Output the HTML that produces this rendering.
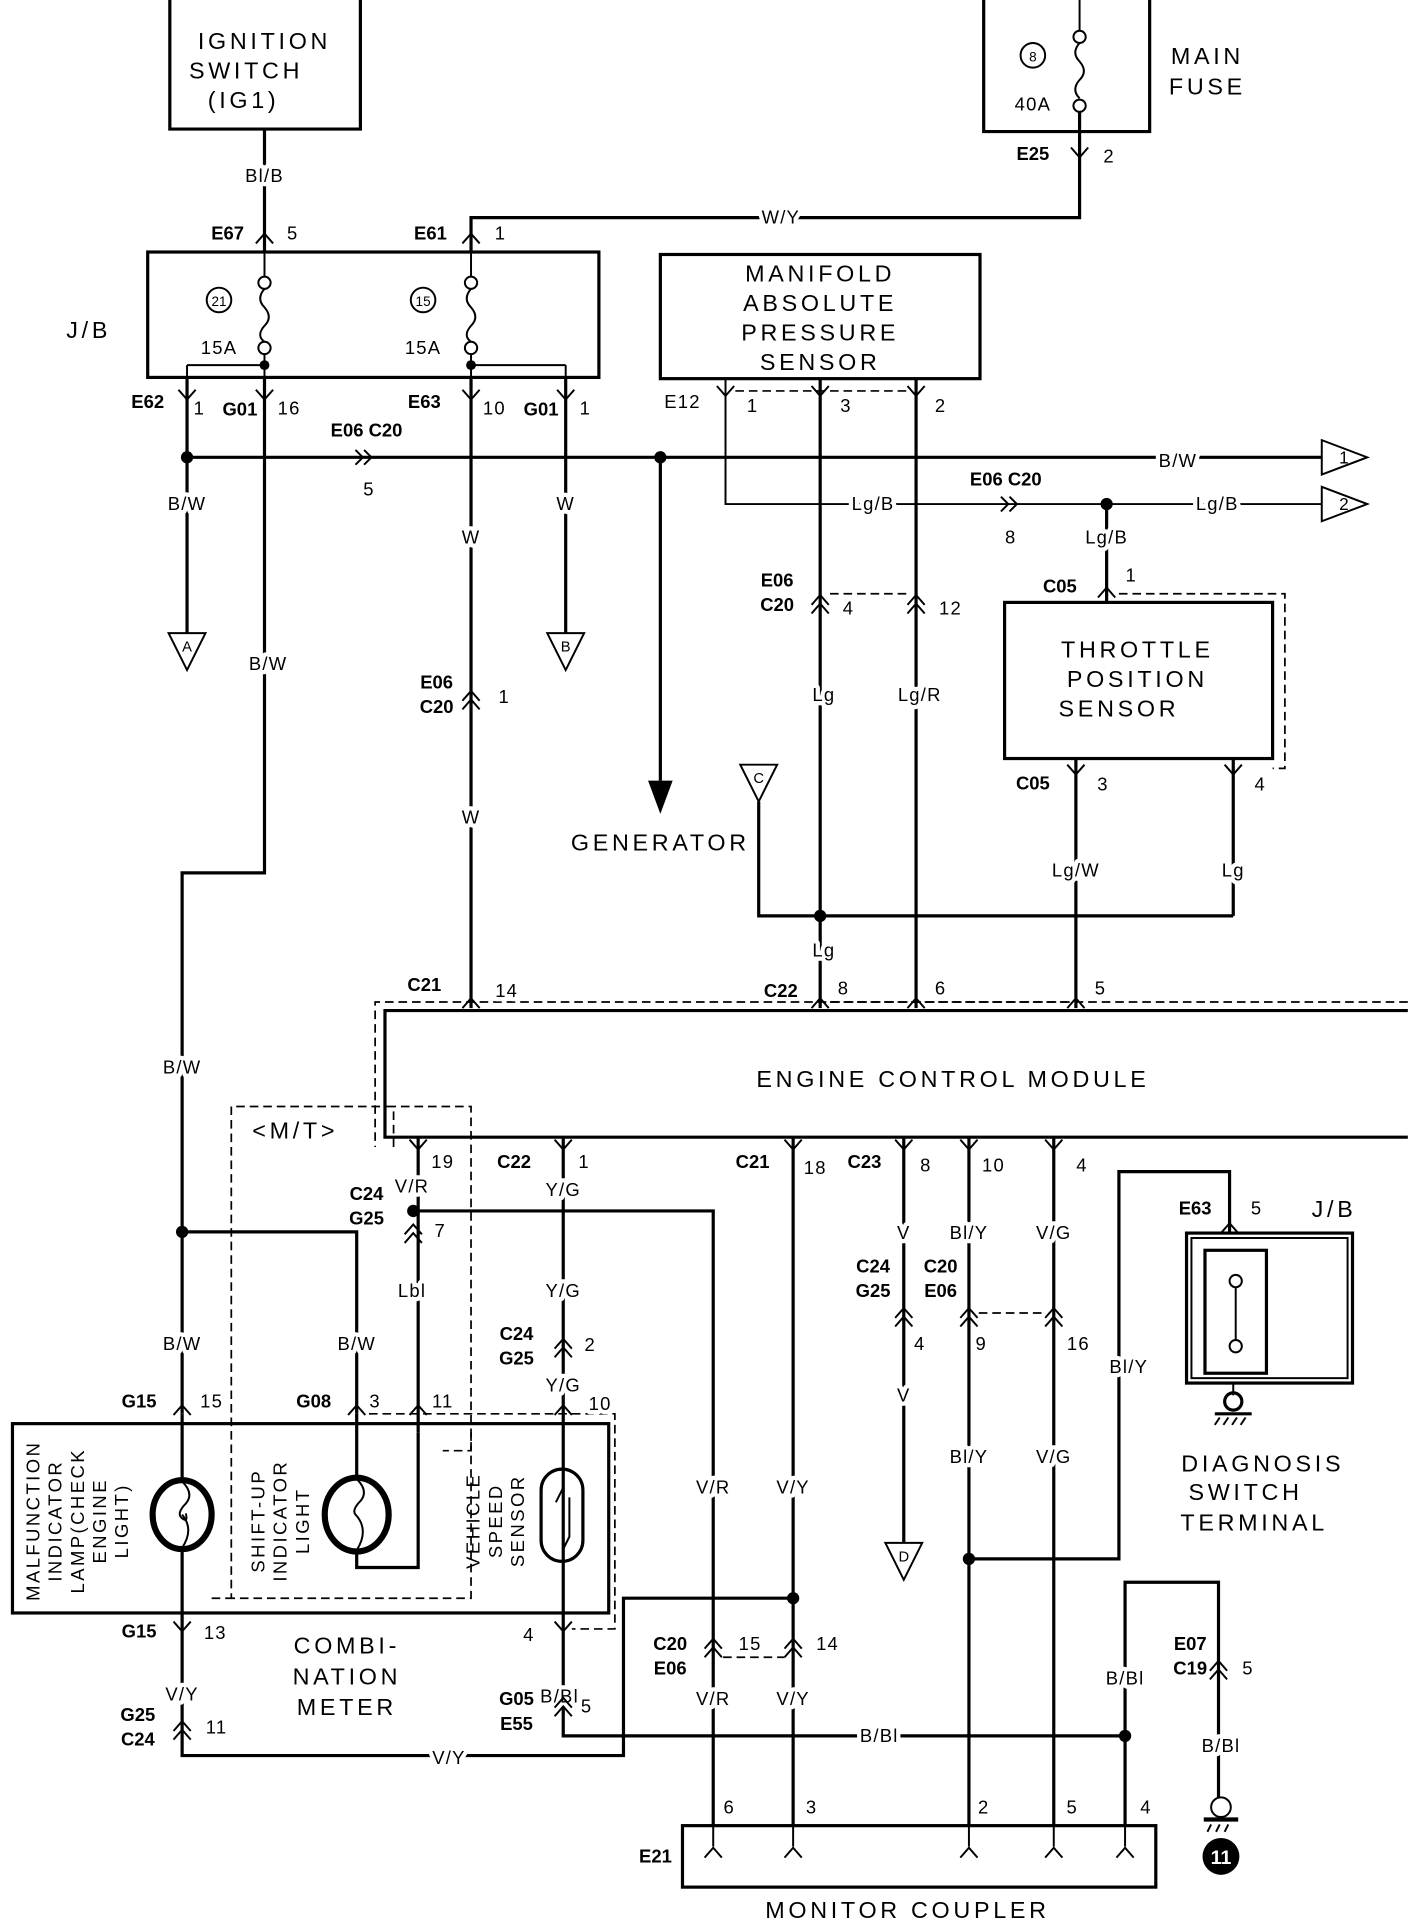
<!DOCTYPE html>
<html><head><meta charset="utf-8"><style>
html,body{margin:0;padding:0;background:#fff}
svg{display:block}
text{font-family:"Liberation Sans",sans-serif;fill:#000}
.t{font-size:19px;letter-spacing:3px}
.s{font-size:15px;letter-spacing:1px;stroke:#fff;stroke-width:7px;paint-order:stroke;stroke-linejoin:round}
.b{font-size:15px;font-weight:bold}
.w{stroke:#000;stroke-width:2.6;fill:none}
.th{stroke:#000;stroke-width:1.6;fill:none}
.d{stroke:#000;stroke-width:1.4;fill:none;stroke-dasharray:7 4}
</style></head><body>
<svg width="1408" height="1924" viewBox="0 0 1145 1565" xmlns="http://www.w3.org/2000/svg">
<defs>
<path id="v" d="M-7,-8 L0,0 L7,-8" stroke="#000" stroke-width="1.6" fill="none"/>
<path id="u" d="M-7,8 L0,0 L7,8" stroke="#000" stroke-width="1.6" fill="none"/>
<g id="dd"><path d="M-7,4 L0,-4 L7,4 M-7,11 L0,3 L7,11" stroke="#000" stroke-width="1.6" fill="none"/></g>
<g id="rr"><path d="M-6,-6 L0,0 L-6,6 M1,-6 L7,0 L1,6" stroke="#000" stroke-width="1.6" fill="none"/></g>
</defs>
<g text-anchor="middle">
<!-- Ignition switch -->
<path class="w" d="M138,0 V105 H293 V0"/>
<text class="t" x="215" y="40">IGNITION</text><text class="t" x="200" y="64">SWITCH</text><text class="t" x="198" y="88">(IG1)</text>
<!-- Main fuse -->
<path class="w" d="M800,0 V107 H935 V0"/>
<circle cx="840" cy="45" r="10" class="th"/><text x="840" y="50" style="font-size:11px">8</text>
<path class="th" d="M878,0 V25"/><circle cx="878" cy="30" r="5" class="th"/><circle cx="878" cy="86" r="5" class="th"/>
<path class="th" d="M878,35 q-7,8 0,15 q7,8 0,15 q-7,8 0,15"/>
<text class="s" x="840" y="90">40A</text>
<text class="t" x="982" y="52">MAIN</text><text class="t" x="982" y="77">FUSE</text>
<path class="w" d="M878,91 V177 H383 V205"/><text class="s" x="635" y="182">W/Y</text>
<text class="b" x="840" y="130">E25</text><use href="#v" x="878" y="128"/><text class="s" x="902" y="132">2</text>
<path class="w" d="M215,105 V205"/><text class="s" x="215" y="148">Bl/B</text>
<text class="b" x="185" y="195">E67</text><use href="#u" x="215" y="190"/><text class="s" x="238" y="195">5</text>
<text class="b" x="350" y="195">E61</text><use href="#u" x="383" y="190"/><text class="s" x="407" y="195">1</text>
<!-- J/B -->
<rect x="120" y="205" width="367" height="102" class="w"/>
<text class="t" x="72" y="275">J/B</text>
<circle cx="178" cy="244" r="10" class="th"/><text x="178" y="249" style="font-size:11px">21</text>
<circle cx="344" cy="244" r="10" class="th"/><text x="344" y="249" style="font-size:11px">15</text>
<g class="th"><path d="M215,205 V225 M383,205 V225"/><circle cx="215" cy="230" r="5"/><circle cx="215" cy="283" r="5"/><circle cx="383" cy="230" r="5"/><circle cx="383" cy="283" r="5"/>
<path d="M215,235 q-7,8 0,15 q7,8 0,15 q-7,8 0,13 M383,235 q-7,8 0,15 q7,8 0,15 q-7,8 0,13"/>
<path d="M215,288 V307 M152,297 H215 M383,288 V307 M383,297 H460"/></g>
<text class="s" x="178" y="288">15A</text><text class="s" x="344" y="288">15A</text>
<circle cx="215" cy="297" r="4"/><circle cx="383" cy="297" r="4"/>
<path class="th" d="M152,297 V320 M460,297 V320"/>
<!-- wires -->
<path class="w" d="M152,307 V515"/><path class="w" d="M152,372 H1075"/>
<circle cx="152" cy="372" r="5"/><circle cx="537" cy="372" r="5"/>
<text class="b" x="298" y="355">E06  C20</text><use href="#rr" x="295" y="372"/><text class="s" x="300" y="403">5</text>
<text class="s" x="958" y="380">B/W</text>
<path class="th" d="M1075,358 L1112,372 L1075,386 Z" fill="#fff"/><text x="1093" y="377" style="font-size:14px">1</text>
<text class="s" x="152" y="415">B/W</text>
<path class="th" d="M137,515 H167 L152,545 Z" fill="#fff"/><text x="152" y="530" style="font-size:12px">A</text>
<path class="w" d="M215,307 V710 H148 V1150"/><text class="s" x="218" y="545">B/W</text>
<text class="s" x="148" y="873">B/W</text>
<circle cx="148" cy="1002" r="5"/><path class="w" d="M148,1002 H290 V1150"/>
<text class="s" x="148" y="1098">B/W</text><text class="s" x="290" y="1098">B/W</text>
<path class="w" d="M383,307 V820"/><text class="s" x="383" y="442">W</text>
<text class="b" x="355" y="560">E06</text><text class="b" x="355" y="580">C20</text><use href="#dd" x="383" y="566"/><text class="s" x="410" y="572">1</text>
<text class="s" x="383" y="670">W</text>
<path class="w" d="M460,307 V515"/><text class="s" x="460" y="415">W</text>
<path class="th" d="M445,515 H475 L460,545 Z" fill="#fff"/><text x="460" y="530" style="font-size:12px">B</text>
<text class="b" x="120" y="332">E62</text><use href="#v" x="152" y="325"/><text class="s" x="162" y="337">1</text>
<text class="b" x="195" y="338">G01</text><use href="#v" x="215" y="325"/><text class="s" x="235" y="337">16</text>
<text class="b" x="345" y="332">E63</text><use href="#v" x="383" y="325"/><text class="s" x="402" y="337">10</text>
<text class="b" x="440" y="338">G01</text><use href="#v" x="460" y="325"/><text class="s" x="476" y="337">1</text>
<path class="w" d="M537,372 V635"/><path d="M527,635 H547 L537,662 Z"/>
<text class="t" x="537" y="692">GENERATOR</text>
<!-- MAP -->
<rect x="537" y="207" width="260" height="101" class="w"/>
<text class="t" x="667" y="229">MANIFOLD</text><text class="t" x="667" y="253">ABSOLUTE</text><text class="t" x="667" y="277">PRESSURE</text><text class="t" x="667" y="301">SENSOR</text>
<text class="s" x="555" y="332">E12</text><path class="d" d="M598,318 H737"/>
<path class="th" d="M590,308 V410 H1075"/>
<path class="w" d="M667,308 V820 M745,308 V820"/>
<use href="#v" x="590" y="322"/><text class="s" x="612" y="335">1</text>
<use href="#v" x="667" y="322"/><text class="s" x="688" y="335">3</text>
<use href="#v" x="745" y="322"/><text class="s" x="765" y="335">2</text>
<text class="s" x="710" y="415">Lg/B</text>
<text class="b" x="818" y="395">E06  C20</text><use href="#rr" x="820" y="410"/><text class="s" x="822" y="442">8</text>
<circle cx="900" cy="410" r="5"/><text class="s" x="990" y="415">Lg/B</text>
<path class="th" d="M1075,396 L1112,410 L1075,424 Z" fill="#fff"/><text x="1093" y="415" style="font-size:14px">2</text>
<path class="w" d="M900,410 V490"/><text class="s" x="900" y="442">Lg/B</text>
<text class="b" x="862" y="482">C05</text><use href="#u" x="900" y="478"/><text class="s" x="920" y="473">1</text>
<rect x="817" y="490" width="218" height="127" class="w"/><path class="d" d="M910,483 H1045 V625 H1035"/>
<text class="t" x="925" y="535">THROTTLE</text><text class="t" x="925" y="559">POSITION</text><text class="t" x="910" y="583">SENSOR</text>
<text class="b" x="632" y="477">E06</text><text class="b" x="632" y="497">C20</text>
<use href="#dd" x="667" y="488"/><use href="#dd" x="745" y="488"/><path class="d" d="M675,483 H738"/>
<text class="s" x="690" y="500">4</text><text class="s" x="773" y="500">12</text>
<text class="s" x="670" y="570">Lg</text><text class="s" x="748" y="570">Lg/R</text>
<path class="w" d="M875,617 V820 M1003,617 V745"/>
<text class="b" x="840" y="642">C05</text><use href="#v" x="875" y="630"/><text class="s" x="897" y="643">3</text>
<use href="#v" x="1003" y="630"/><text class="s" x="1025" y="643">4</text>
<text class="s" x="875" y="713">Lg/W</text><text class="s" x="1003" y="713">Lg</text>
<path class="th" d="M602,622 H632 L617,652 Z" fill="#fff"/><text x="617" y="637" style="font-size:12px">C</text>
<path class="w" d="M617,652 V745 H1003"/><circle cx="667" cy="745" r="5"/><text class="s" x="670" y="778">Lg</text>
<!-- ECM -->
<path class="w" d="M1145,822 H313 V925 H1145"/><path class="d" d="M1145,815 H305 V933"/>
<text class="t" x="775" y="884">ENGINE CONTROL MODULE</text>
<text class="b" x="345" y="806">C21</text><use href="#u" x="383" y="812"/><text class="s" x="412" y="811">14</text>
<text class="b" x="635" y="811">C22</text><use href="#u" x="667" y="812"/><text class="s" x="686" y="809">8</text>
<use href="#u" x="745" y="812"/><text class="s" x="765" y="809">6</text><path class="d" d="M675,815 H868"/>
<use href="#u" x="875" y="812"/><text class="s" x="895" y="809">5</text>
<!-- M/T dashed -->
<path class="d" d="M320,933 V900 H188 V1300 H383 V900 H320"/>
<text class="t" x="240" y="926">&lt;M/T&gt;</text>
<path class="w" d="M340,925 V1165"/>
<path class="w" d="M336,985 H580 V1485"/>
<path class="w" d="M458,925 V1157"/>
<use href="#v" x="340" y="935"/><text class="s" x="360" y="950">19</text>
<text class="s" x="335" y="970">V/R</text><circle cx="336" cy="985" r="5"/>
<text class="b" x="298" y="976">C24</text><text class="b" x="298" y="996">G25</text><use href="#dd" x="336" y="1000"/><text class="s" x="358" y="1006">7</text>
<text class="s" x="335" y="1055">Lbl</text>
<text class="b" x="418" y="950">C22</text><use href="#v" x="458" y="935"/><text class="s" x="475" y="950">1</text>
<text class="s" x="458" y="973">Y/G</text><text class="s" x="458" y="1055">Y/G</text>
<text class="b" x="420" y="1090">C24</text><text class="b" x="420" y="1110">G25</text><use href="#dd" x="458" y="1093"/><text class="s" x="480" y="1099">2</text>
<text class="s" x="458" y="1132">Y/G</text>
<!-- Combination meter -->
<rect x="10" y="1158" width="485" height="154" class="w"/>
<path class="d" d="M300,1150 H500 V1325 H465"/>
<path class="w" d="M148,1150 V1400 M290,1150 V1275 H340 V1165 M458,1157 V1412 H915"/>
<text class="b" x="113" y="1145">G15</text><use href="#u" x="148" y="1143"/><text class="s" x="172" y="1145">15</text>
<text class="b" x="255" y="1145">G08</text><use href="#u" x="290" y="1143"/><text class="s" x="305" y="1145">3</text>
<use href="#u" x="340" y="1143"/><text class="s" x="360" y="1145">11</text>
<use href="#u" x="458" y="1143"/><text class="s" x="488" y="1147">10</text>
<ellipse cx="148" cy="1232" rx="24" ry="28" style="stroke:#000;stroke-width:5;fill:#fff"/>
<ellipse cx="290" cy="1232" rx="26" ry="30" style="stroke:#000;stroke-width:5;fill:#fff"/>
<path class="th" d="M148,1205 q10,10 3,18 q-8,8 -3,12 q5,4 3,-4 M148,1232 q10,12 0,27"/>
<path class="th" d="M290,1203 q10,10 3,18 q-8,8 -3,12 M290,1233 q10,12 0,28"/>
<rect x="440" y="1195" width="34" height="75" rx="17" class="w" fill="#fff"/>
<path class="th" d="M458,1195 V1210 L452,1222 M463,1218 V1250 L458,1260 V1270"/>
<path class="d" d="M172,1300 H188 M383,1165 V1180 H360"/>
<g class="t" style="font-size:15px;letter-spacing:2px" text-anchor="middle">
<text transform="translate(32,1237) rotate(-90)">MALFUNCTION</text>
<text transform="translate(50,1237) rotate(-90)">INDICATOR</text>
<text transform="translate(68,1237) rotate(-90)">LAMP(CHECK</text>
<text transform="translate(86,1237) rotate(-90)">ENGINE</text>
<text transform="translate(104,1237) rotate(-90)">LIGHT)</text>
<text transform="translate(215,1237) rotate(-90)">SHIFT-UP</text>
<text transform="translate(233,1237) rotate(-90)">INDICATOR</text>
<text transform="translate(251,1237) rotate(-90)">LIGHT</text>
<text transform="translate(390,1237) rotate(-90)">VEHICLE</text>
<text transform="translate(408,1237) rotate(-90)">SPEED</text>
<text transform="translate(426,1237) rotate(-90)">SENSOR</text>
</g>
<text class="b" x="113" y="1332">G15</text><use href="#v" x="148" y="1327"/><text class="s" x="175" y="1333">13</text>
<text class="s" x="430" y="1335">4</text><use href="#v" x="458" y="1327"/>
<text class="t" x="282" y="1345">COMBI-</text><text class="t" x="282" y="1370">NATION</text><text class="t" x="282" y="1395">METER</text>
<path class="w" d="M148,1400 V1428 H507 V1300 H645"/>
<text class="s" x="148" y="1383">V/Y</text>
<text class="b" x="112" y="1400">G25</text><text class="b" x="112" y="1420">C24</text><use href="#dd" x="148" y="1404"/><text class="s" x="176" y="1410">11</text>
<text class="s" x="365" y="1435">V/Y</text>
<text class="s" x="455" y="1385">B/Bl</text>
<text class="b" x="420" y="1387">G05</text><text class="b" x="420" y="1407">E55</text><use href="#dd" x="458" y="1385"/><text class="s" x="477" y="1393">5</text>
<text class="s" x="715" y="1417">B/Bl</text>
<!-- lower right -->
<path class="w" d="M645,925 V1485"/>
<path class="w" d="M735,925 V1255 M788,925 V1485 M857,925 V1485"/>
<path class="w" d="M788,1268 H910 V953 H1000 V1003"/><circle cx="788" cy="1268" r="5"/>
<text class="b" x="612" y="950">C21</text><use href="#v" x="645" y="935"/><text class="s" x="663" y="955">18</text>
<circle cx="645" cy="1300" r="5"/>
<text class="s" x="580" y="1215">V/R</text><text class="s" x="645" y="1215">V/Y</text>
<text class="b" x="545" y="1342">C20</text><text class="b" x="545" y="1362">E06</text>
<use href="#dd" x="580" y="1337"/><use href="#dd" x="645" y="1337"/><path class="d" d="M588,1348 H638"/>
<text class="s" x="610" y="1342">15</text><text class="s" x="673" y="1342">14</text>
<text class="s" x="580" y="1387">V/R</text><text class="s" x="645" y="1387">V/Y</text>
<text class="b" x="703" y="950">C23</text>
<use href="#v" x="735" y="935"/><text class="s" x="753" y="953">8</text>
<use href="#v" x="788" y="935"/><text class="s" x="808" y="953">10</text>
<use href="#v" x="857" y="935"/><text class="s" x="880" y="953">4</text>
<text class="s" x="735" y="1008">V</text><text class="s" x="788" y="1008">Bl/Y</text><text class="s" x="857" y="1008">V/G</text>
<text class="b" x="710" y="1035">C24</text><text class="b" x="710" y="1055">G25</text>
<text class="b" x="765" y="1035">C20</text><text class="b" x="765" y="1055">E06</text>
<use href="#dd" x="735" y="1068"/><use href="#dd" x="788" y="1068"/><use href="#dd" x="857" y="1068"/>
<path class="d" d="M796,1068 H850"/>
<text class="s" x="748" y="1098">4</text><text class="s" x="798" y="1098">9</text><text class="s" x="877" y="1098">16</text>
<text class="s" x="735" y="1140">V</text><text class="s" x="788" y="1190">Bl/Y</text><text class="s" x="857" y="1190">V/G</text>
<path class="th" d="M720,1255 H750 L735,1285 Z" fill="#fff"/><text x="735" y="1270" style="font-size:12px">D</text>
<text class="s" x="918" y="1117">Bl/Y</text>
<text class="b" x="972" y="988">E63</text><use href="#u" x="1000" y="995"/><text class="s" x="1022" y="988">5</text>
<text class="t" x="1085" y="990">J/B</text>
<rect x="965" y="1003" width="135" height="122" class="w"/><rect x="969" y="1007" width="127" height="114" class="th"/>
<rect x="980" y="1017" width="50" height="100" class="w"/>
<circle cx="1005" cy="1042" r="5" class="th"/><circle cx="1005" cy="1095" r="5" class="th"/>
<path class="th" d="M1005,1047 V1090 M1003,1125 V1135"/>
<circle cx="1003" cy="1140" r="7" class="w"/><path class="w" d="M988,1150 H1018"/><path class="th" d="M992,1153 l-4,6 M999,1153 l-4,6 M1006,1153 l-4,6 M1013,1153 l-4,6"/>
<text class="t" x="1027" y="1197">DIAGNOSIS</text><text class="t" x="1013" y="1220">SWITCH</text><text class="t" x="1020" y="1245">TERMINAL</text>
<path class="w" d="M915,1485 V1287 H991 V1462"/><circle cx="915" cy="1412" r="5"/>
<text class="s" x="915" y="1370">B/Bl</text>
<text class="b" x="968" y="1342">E07</text><text class="b" x="968" y="1362">C19</text>
<use href="#dd" x="991" y="1355"/><text class="s" x="1015" y="1362">5</text>
<text class="s" x="993" y="1425">B/Bl</text>
<circle cx="993" cy="1470" r="8" class="th" fill="#fff"/><path d="M979,1480 H1007" stroke="#000" stroke-width="3.5"/>
<path class="th" d="M985,1484 l-3,6 M992,1484 l-3,6 M999,1484 l-3,6"/>
<circle cx="993" cy="1510" r="15"/><text x="993" y="1516" style="font-size:16px;font-weight:bold;fill:#fff">11</text>
<!-- monitor coupler -->
<rect x="555" y="1485" width="385" height="50" class="w"/>
<text class="b" x="533" y="1515">E21</text>
<g class="th"><path d="M580,1485 V1502 M645,1485 V1502 M788,1485 V1502 M857,1485 V1502 M915,1485 V1502"/></g>
<use href="#u" x="580" y="1503"/><use href="#u" x="645" y="1503"/><use href="#u" x="788" y="1503"/><use href="#u" x="857" y="1503"/><use href="#u" x="915" y="1503"/>
<text class="s" x="593" y="1475">6</text><text class="s" x="660" y="1475">3</text><text class="s" x="800" y="1475">2</text><text class="s" x="872" y="1475">5</text><text class="s" x="932" y="1475">4</text>
<text class="t" x="738" y="1560">MONITOR COUPLER</text>
</g>
</svg>
</body></html>
